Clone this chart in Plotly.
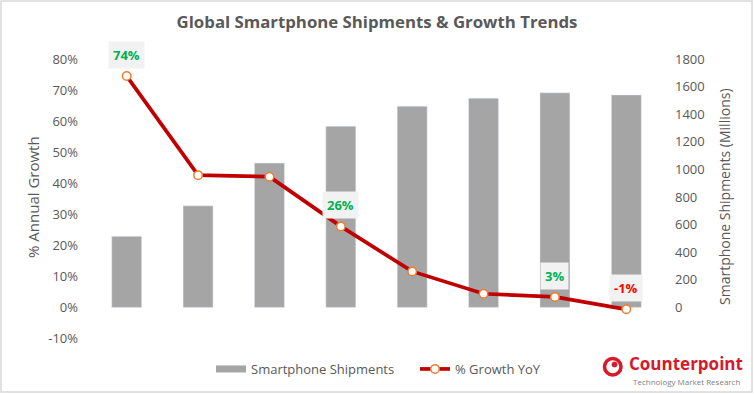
import plotly.graph_objects as go

# ---- data ----
years = [2011, 2012, 2013, 2014, 2015, 2016, 2017, 2018]
shipments = [515, 736, 1046, 1313, 1458, 1516, 1555, 1540]   # millions
growth = [74.5, 42.6, 42.1, 26.1, 11.6, 4.4, 3.4, -0.6]      # % YoY
labelled_idx = [0, 3, 6, 7]
growth_ticks = [-10, 0, 10, 20, 30, 40, 50, 60, 70, 80]
ship_ticks = [0, 200, 400, 600, 800, 1000, 1200, 1400, 1600, 1800]

W, H = 754, 394
GRAY_TXT = "#595959"
FONT = "Open Sans"

def px_x(p):
    return p / W

def px_y(p):
    return 1 - p / H

fig = go.Figure()

fig.add_trace(go.Bar(
    x=years, y=shipments, name="Smartphone Shipments",
    marker=dict(color="#a5a5a5"), width=0.42,
    xaxis="x", yaxis="y", showlegend=False, legendgroup="ship",
))
# legend proxy for bar (wide flat rectangle like Excel)
fig.add_trace(go.Scatter(
    x=[years[0]], y=[None], mode="lines", name="Smartphone Shipments",
    line=dict(color="#a5a5a5", width=7), xaxis="x", yaxis="y",
    legendgroup="ship", hoverinfo="skip",
))
fig.add_trace(go.Scatter(
    x=years, y=growth, name="% Growth YoY", xaxis="x", yaxis="y2",
    mode="lines+markers",
    line=dict(color="#c00000", width=3.7),
    marker=dict(size=8.5, color="white", line=dict(color="#ed7d31", width=1.5)),
))

annotations = []
for i in labelled_idx:
    v = growth[i]
    col = "#00b050" if v >= 0 else "#ff0000"
    annotations.append(dict(
        x=years[i], y=v, xref="x", yref="y2",
        text=f"<b>{round(v):d}%</b>", showarrow=False,
        yshift=21, bgcolor="#f2f2f2", borderpad=4,
        font=dict(family=FONT, size=13, color=col),
    ))

annotations += [
    dict(x=px_x(33), y=px_y(197), xref="paper", yref="paper",
         xanchor="center", yanchor="middle",
         text="% Annual Growth", textangle=-90, showarrow=False,
         font=dict(family=FONT, size=15, color=GRAY_TXT)),
    dict(x=px_x(724), y=px_y(197), xref="paper", yref="paper",
         xanchor="center", yanchor="middle",
         text="Smartphone Shipments (Millions)", textangle=-90, showarrow=False,
         font=dict(family=FONT, size=14, color=GRAY_TXT)),
    dict(x=px_x(627), y=px_y(363), xref="paper", yref="paper",
         xanchor="left", yanchor="middle",
         text="<b>Counterpoint</b>", showarrow=False,
         font=dict(family=FONT, size=17, color="#d7192a")),
    dict(x=px_x(631), y=px_y(381), xref="paper", yref="paper",
         xanchor="left", yanchor="middle",
         text="Technology Market Research", showarrow=False,
         font=dict(family=FONT, size=8, color="#7f7f7f")),
]

shapes = [
    dict(type="rect", xref="paper", yref="paper",
         x0=px_x(1), x1=px_x(W - 2), y0=px_y(H - 2), y1=px_y(1),
         line=dict(color="#d9d9d9", width=1.5), fillcolor="rgba(0,0,0,0)"),
    dict(type="circle", xref="paper", yref="paper",
         x0=px_x(604.5), x1=px_x(621), y0=px_y(375), y1=px_y(358.5),
         line=dict(color="#d7192a", width=3.5), fillcolor="rgba(0,0,0,0)"),
    dict(type="circle", xref="paper", yref="paper",
         x0=px_x(612), x1=px_x(617), y0=px_y(367), y1=px_y(362),
         line=dict(color="#d7192a", width=1), fillcolor="#d7192a"),
]

fig.update_layout(
    width=W, height=H, autosize=False,
    margin=dict(l=0, r=0, t=0, b=0, pad=0, autoexpand=False),
    paper_bgcolor="white", plot_bgcolor="white",
    font=dict(family=FONT, color=GRAY_TXT),
    title=dict(text="<b>Global Smartphone Shipments & Growth Trends</b>",
               x=0.5, xanchor="center", y=px_y(22), yanchor="middle",
               font=dict(family=FONT, size=16.8, color=GRAY_TXT)),
    xaxis=dict(type="linear", domain=[px_x(91), px_x(662)],
               range=[years[0] - 0.5, years[-1] + 0.5], automargin=False,
               showticklabels=False, showgrid=False, zeroline=False,
               showline=False, ticks=""),
    yaxis=dict(domain=[px_y(338.5), px_y(59)], side="right", anchor="x",
               range=[-225, 1800], tickmode="array", tickvals=ship_ticks,
               ticktext=[str(t) for t in ship_ticks], automargin=False,
               showgrid=False, zeroline=False, showline=False,
               ticklabelstandoff=12,
               tickfont=dict(family=FONT, size=13, color=GRAY_TXT)),
    yaxis2=dict(overlaying="y", anchor="x", side="left", range=[-10, 80],
                tickmode="array", tickvals=growth_ticks,
                ticktext=[f"{t}%" for t in growth_ticks], automargin=False,
                showgrid=False, zeroline=False, showline=False,
                ticklabelstandoff=12,
                tickfont=dict(family=FONT, size=13, color=GRAY_TXT)),
    legend=dict(orientation="h", x=px_x(211), y=px_y(369),
                xanchor="left", yanchor="middle",
                entrywidth=159, entrywidthmode="pixels",
                font=dict(family=FONT, size=13, color=GRAY_TXT),
                bgcolor="rgba(0,0,0,0)", traceorder="normal"),
    annotations=annotations, shapes=shapes,
)

fig.write_html(
    "out.html",
    config={"responsive": False, "displayModeBar": False},
    post_script=("document.documentElement.style.margin='0';"
                 "document.body.style.margin='0';"
                 "document.body.style.padding='0';"
                 "document.body.style.overflow='hidden';"),
)
